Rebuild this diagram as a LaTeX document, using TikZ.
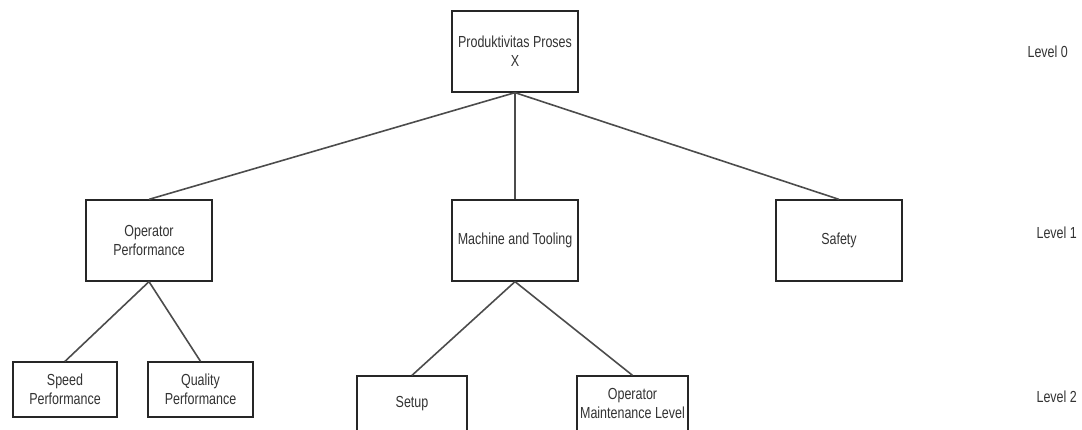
\documentclass[tikz,border=0pt]{standalone}
\usepackage{fontspec}
\setmainfont{Liberation Sans}[FakeStretch=0.78]
\begin{document}
\begin{tikzpicture}[x=1pt,y=-1pt,
  box/.style={draw=black!85, line width=1.3pt, fill=white, align=center, inner sep=1pt,
    font=\fontsize{16}{19}\selectfont, text=black!80},
  big/.style={box, minimum width=126pt, minimum height=81pt},
  small/.style={box, minimum height=55pt},
  lvl/.style={font=\fontsize{16}{19}\selectfont, text=black!80, anchor=east, inner sep=0pt},
  link/.style={draw=black!70, line width=1.6pt}]
\useasboundingbox (0,0) rectangle (1082,430);
\node[big] (root) at (515,51.5) {Produktivitas Proses\\X};
\node[big] (op) at (149,240.5) {Operator\\Performance};
\node[big] (mt) at (515,240.5) {Machine and Tooling};
\node[big] (sf) at (839,240.5) {Safety};
\node[small, minimum width=104pt] (sp) at (65,389.5) {Speed\\Performance};
\node[small, minimum width=105pt] (qp) at (200.5,389.5) {Quality\\Performance};
\node[small, minimum width=110pt] (su) at (412,403.5) {Setup};
\node[small, minimum width=111pt] (om) at (632.5,403.5) {Operator\\Maintenance Level};
\node[lvl] (l0) at (1068,52) {Level 0};
\node[lvl] (l1) at (1077,233) {Level 1};
\node[lvl] (l2) at (1077,397) {Level 2};
\draw[link] (root.south) -- (op.north);
\draw[link] (root.south) -- (mt.north);
\draw[link] (root.south) -- (sf.north);
\draw[link] (op.south) -- (sp.north);
\draw[link] (op.south) -- (qp.north);
\draw[link] (mt.south) -- (su.north);
\draw[link] (mt.south) -- (om.north);
\end{tikzpicture}
\end{document}
